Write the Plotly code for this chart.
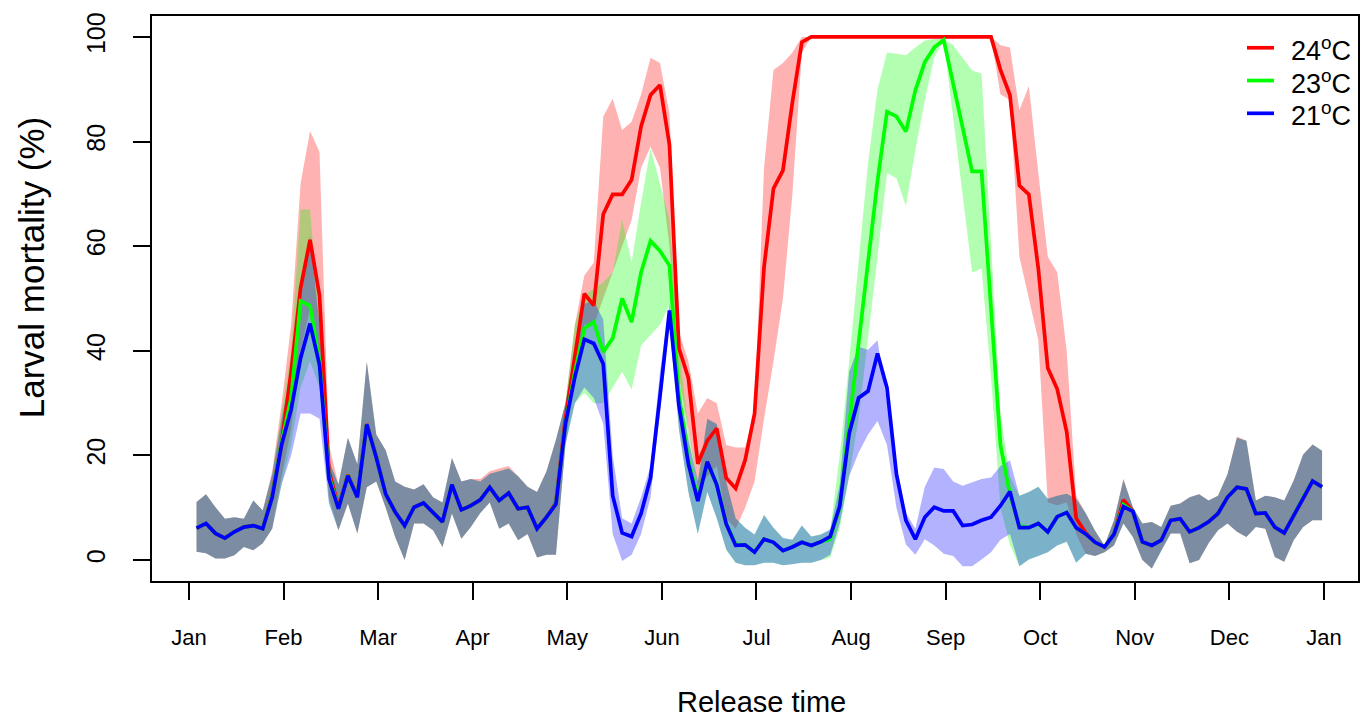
import plotly.graph_objects as go

# ---- data: 120 releases (10 per month), values in % ----
months = ["Jan", "Feb", "Mar", "Apr", "May", "Jun", "Jul", "Aug", "Sep", "Oct", "Nov", "Dec", "Jan"]
n_per_month = 10
n_points = 120

blue_mean = [
    6.1, 7.0, 5.1, 4.2, 5.4, 6.3, 6.6, 6.0, 12.0, 22.1,
    28.8, 38.6, 45.2, 37.3, 15.5, 9.8, 16.1, 12.0, 25.9, 19.6,
    12.6, 9.2, 6.6, 10.1, 10.9, 9.2, 7.3, 14.4, 9.6, 10.4,
    11.5, 13.9, 11.4, 12.8, 9.8, 10.1, 6.0, 8.2, 10.7, 26.0,
    35.0, 42.2, 41.4, 37.5, 12.3, 5.2, 4.5, 8.9, 15.7, 31.3,
    47.7, 29.6, 18.4, 11.3, 18.8, 14.4, 6.9, 2.8, 2.9, 1.5,
    4.0, 3.4, 1.8, 2.5, 3.4, 2.8, 3.5, 4.5, 10.3, 24.2,
    31.0, 32.3, 39.5, 32.9, 16.4, 7.6, 4.0, 8.2, 10.1, 9.4,
    9.4, 6.6, 6.8, 7.6, 8.2, 10.4, 13.1, 6.2, 6.2, 7.0,
    5.4, 8.3, 9.1, 6.2, 5.0, 3.4, 2.5, 4.9, 10.2, 9.3,
    3.5, 2.8, 3.8, 7.6, 7.9, 5.4, 6.2, 7.3, 8.9, 12.0,
    13.9, 13.6, 8.9, 9.0, 6.3, 5.2, 8.5, 12.0, 15.1, 14.0,
]
blue_lo = [
    1.6, 1.3, 0.3, 0.3, 0.9, 2.5, 1.9, 3.2, 6.0, 14.5,
    20.0, 28.0, 28.0, 27.0, 10.8, 5.7, 10.8, 5.1, 13.9, 15.0,
    10.0, 4.4, 0.0, 7.0, 7.0, 5.7, 2.5, 8.9, 4.1, 6.3,
    9.0, 11.0, 6.0, 7.0, 3.8, 5.0, 0.5, 1.0, 1.0, 22.0,
    30.0, 33.0, 31.0, 26.0, 5.0, -0.2, 1.0, 5.0, 12.0, 28.0,
    45.0, 25.0, 13.0, 5.0, 13.0, 8.0, 2.0, -0.5, -1.0, -1.0,
    -0.5, -0.5, -1.0, -0.8, -0.5, -0.5, 0.0, 1.0, 7.0, 16.0,
    20.5, 24.0, 26.6, 22.0, 10.0, 3.0, 1.0, 4.0, 2.8, 1.2,
    0.8, -1.2, -1.2, 0.1, 1.5, 3.9, 5.0, -1.2, 0.1, 0.8,
    1.5, 2.8, 3.5, -0.5, 1.2, 0.8, 1.5, 2.8, 7.0, 4.4,
    0.0, -1.6, 1.9, 5.1, 5.1, -0.6, 0.0, 3.2, 5.7, 7.0,
    5.4, 4.4, 6.3, 6.0, 0.6, -0.3, 3.8, 6.3, 7.6, 7.6,
]
blue_hi = [
    11.1, 12.6, 10.1, 7.9, 8.2, 7.9, 11.4, 9.5, 16.4, 27.0,
    36.0, 50.0, 62.0, 45.0, 19.0, 14.5, 23.4, 18.3, 37.9, 24.0,
    21.0, 15.0, 14.0, 13.5, 14.5, 12.0, 11.0, 19.5, 15.0, 15.5,
    15.0, 16.5, 17.0, 17.5, 16.0, 14.0, 13.0, 17.0, 23.0, 30.0,
    40.0, 49.0, 49.5, 46.0, 20.0, 8.0, 7.0, 12.0, 18.0, 36.0,
    49.0, 33.0, 23.0, 15.0, 27.0, 26.0, 15.0, 8.0, 6.2, 4.9,
    8.6, 6.2, 4.2, 3.9, 6.6, 4.5, 4.9, 5.9, 14.4, 36.0,
    40.8, 40.2, 42.0, 30.0, 18.3, 9.0, 6.0, 14.0, 17.7, 17.4,
    15.0, 14.2, 14.9, 15.5, 15.8, 18.0, 19.1, 12.3, 13.0, 14.0,
    11.7, 12.3, 12.7, 11.7, 9.0, 5.6, 2.8, 7.6, 15.3, 10.1,
    7.0, 7.3, 6.3, 10.4, 10.8, 12.0, 12.6, 11.4, 12.3, 16.4,
    23.4, 22.8, 11.4, 12.3, 12.0, 11.4, 15.2, 20.2, 22.1, 20.9,
]

green_mean = [
    6.1, 7.0, 5.1, 4.2, 5.4, 6.3, 6.6, 6.0, 12.3, 22.5,
    31.0, 49.5, 48.6, 38.0, 16.0, 9.9, 16.2, 12.1, 25.9, 19.7,
    12.6, 9.2, 6.6, 10.1, 10.9, 9.2, 7.3, 14.4, 9.6, 10.4,
    11.5, 13.9, 11.4, 12.8, 9.8, 10.1, 6.0, 8.2, 10.8, 26.0,
    36.0, 44.3, 45.5, 39.8, 42.4, 50.0, 45.5, 55.0, 61.0, 59.1,
    56.3, 31.6, 19.0, 12.0, 18.5, 14.5, 7.0, 3.0, 2.9, 1.6,
    4.0, 3.4, 1.8, 2.5, 3.4, 2.8, 3.5, 4.0, 10.1, 26.0,
    42.0, 57.5, 72.5, 85.7, 84.8, 81.9, 89.8, 95.2, 98.0, 99.4,
    91.0, 82.2, 74.3, 74.3, 48.0, 22.0, 12.5, 6.5, 6.2, 7.0,
    5.4, 8.3, 9.1, 6.2, 5.0, 3.4, 2.5, 4.9, 10.6, 9.3,
    3.5, 2.8, 3.8, 7.6, 7.9, 5.4, 6.2, 7.3, 8.9, 12.0,
    13.9, 13.6, 8.9, 9.0, 6.3, 5.2, 8.5, 12.0, 15.1, 14.0,
]
green_lo = [
    1.6, 1.3, 0.3, 0.3, 0.9, 2.5, 1.9, 3.2, 6.0, 14.5,
    22.0, 33.0, 38.0, 33.0, 11.0, 5.7, 10.8, 5.1, 13.9, 15.0,
    10.0, 4.4, 0.0, 7.0, 7.0, 5.7, 2.5, 8.9, 4.1, 6.3,
    9.0, 11.0, 6.0, 7.0, 3.8, 5.0, 0.5, 1.0, 1.0, 22.0,
    30.0, 32.0, 30.0, 30.0, 33.0, 36.0, 32.6, 41.0, 43.0, 45.0,
    48.7, 25.0, 13.0, 5.0, 13.0, 8.0, 2.0, -0.5, -1.0, -1.0,
    -0.5, -0.5, -1.0, -0.8, -0.5, -0.5, 0.0, 0.5, 6.0, 16.0,
    27.0, 42.0, 58.0, 74.0, 73.0, 67.7, 78.4, 87.9, 96.1, 99.3,
    84.5, 69.8, 55.0, 55.7, 35.0, 10.0, 3.0, -1.2, 0.1, 0.8,
    1.5, 2.8, 3.5, -0.5, 1.2, 0.8, 1.5, 2.8, 7.0, 4.4,
    0.0, -1.6, 1.9, 5.1, 5.1, -0.6, 0.0, 3.2, 5.7, 7.0,
    5.4, 4.4, 6.3, 6.0, 0.6, -0.3, 3.8, 6.3, 7.6, 7.6,
]
green_hi = [
    11.1, 12.6, 10.1, 7.9, 8.2, 7.9, 11.4, 9.5, 16.4, 28.0,
    40.0, 67.0, 67.0, 46.0, 19.0, 14.5, 23.4, 18.3, 37.9, 24.0,
    21.0, 15.0, 14.0, 13.5, 14.5, 12.0, 11.0, 19.5, 15.0, 15.5,
    15.0, 16.5, 17.0, 17.5, 16.0, 14.0, 13.0, 17.0, 23.0, 30.0,
    45.0, 50.6, 51.9, 53.1, 55.0, 65.1, 56.9, 68.3, 78.7, 72.1,
    65.1, 41.0, 25.0, 15.0, 27.0, 26.0, 15.0, 8.0, 6.2, 4.9,
    8.6, 6.2, 4.2, 3.9, 6.6, 4.5, 4.9, 5.7, 20.0, 38.0,
    57.0, 76.0, 90.0, 97.0, 96.8, 96.5, 98.0, 99.3, 99.6, 99.6,
    98.4, 96.1, 93.6, 93.0, 60.0, 28.0, 16.0, 12.3, 13.0, 14.0,
    11.7, 12.3, 12.7, 11.7, 9.0, 5.6, 2.8, 7.6, 15.3, 10.1,
    7.0, 7.3, 6.3, 10.4, 10.8, 12.0, 12.6, 11.4, 12.3, 16.4,
    23.4, 22.8, 11.4, 12.3, 12.0, 11.4, 15.2, 20.2, 22.1, 20.9,
]

red_mean = [
    6.1, 7.0, 5.1, 4.2, 5.4, 6.3, 6.6, 6.0, 12.5, 22.5,
    36.0, 52.0, 61.2, 50.6, 17.0, 10.2, 16.3, 12.2, 26.0, 19.8,
    12.6, 9.2, 6.6, 10.1, 10.9, 9.2, 7.3, 14.4, 9.6, 10.4,
    11.5, 13.9, 11.4, 12.8, 9.8, 10.1, 6.0, 8.2, 11.0, 27.0,
    39.0, 50.9, 48.7, 66.1, 69.9, 69.9, 72.7, 82.9, 88.9, 90.8,
    79.4, 40.5, 34.8, 18.4, 22.8, 25.2, 15.7, 13.7, 19.1, 28.0,
    56.0, 71.0, 74.5, 87.5, 99.0, 100.0, 100.0, 100.0, 100.0, 100.0,
    100.0, 100.0, 100.0, 100.0, 100.0, 100.0, 100.0, 100.0, 100.0, 100.0,
    100.0, 100.0, 100.0, 100.0, 100.0, 93.7, 88.9, 71.6, 69.9, 55.7,
    36.7, 32.7, 24.5, 8.0, 5.2, 3.4, 2.5, 4.9, 11.5, 9.3,
    3.5, 2.8, 3.8, 7.6, 7.9, 5.4, 6.2, 7.3, 8.9, 12.0,
    13.9, 13.6, 8.9, 9.0, 6.3, 5.2, 8.5, 12.0, 15.1, 14.0,
]
red_lo = [
    1.6, 1.3, 0.3, 0.3, 0.9, 2.5, 1.9, 3.2, 6.0, 16.0,
    25.0, 40.0, 48.0, 38.0, 12.0, 5.7, 10.8, 5.1, 13.9, 15.0,
    10.0, 4.4, 0.0, 7.0, 7.0, 5.7, 2.5, 8.9, 4.1, 6.3,
    9.0, 11.0, 6.0, 7.0, 3.8, 5.0, 0.5, 1.0, 1.0, 22.0,
    35.0, 45.0, 45.0, 50.0, 55.0, 60.0, 65.0, 75.0, 79.0, 75.0,
    60.0, 35.0, 25.0, 14.0, 16.0, 18.0, 8.0, 6.0, 10.0, 15.0,
    27.0, 38.0, 50.0, 70.0, 97.0, 100.0, 100.0, 100.0, 100.0, 100.0,
    100.0, 100.0, 100.0, 100.0, 100.0, 100.0, 100.0, 100.0, 100.0, 100.0,
    100.0, 100.0, 100.0, 100.0, 100.0, 89.0, 88.0, 58.0, 50.0, 42.0,
    11.0, 10.5, 11.0, 5.0, 1.2, 0.8, 1.5, 2.8, 7.0, 4.4,
    0.0, -1.6, 1.9, 5.1, 5.1, -0.6, 0.0, 3.2, 5.7, 7.0,
    5.4, 4.4, 6.3, 6.0, 0.6, -0.3, 3.8, 6.3, 7.6, 7.6,
]
red_hi = [
    11.1, 12.6, 10.1, 7.9, 8.2, 7.9, 11.4, 9.5, 17.0, 30.0,
    45.0, 72.0, 82.0, 78.0, 22.0, 14.5, 23.4, 18.3, 37.9, 24.0,
    21.0, 15.0, 14.0, 13.5, 14.5, 12.0, 11.0, 19.5, 15.0, 15.5,
    15.5, 17.0, 17.5, 18.0, 16.0, 14.0, 13.0, 17.0, 23.0, 30.0,
    45.0, 54.4, 56.9, 84.8, 88.2, 82.2, 83.8, 89.0, 96.0, 95.0,
    85.4, 43.6, 38.0, 28.0, 31.0, 30.0, 22.0, 21.5, 21.5, 28.0,
    75.0, 93.7, 95.0, 97.0, 100.0, 100.0, 100.0, 100.0, 100.0, 100.0,
    100.0, 100.0, 100.0, 100.0, 100.0, 100.0, 100.0, 100.0, 100.0, 100.0,
    100.0, 100.0, 100.0, 100.0, 100.0, 98.4, 98.0, 86.0, 90.6, 74.0,
    58.0, 55.0, 40.0, 12.3, 9.0, 5.6, 2.8, 7.6, 15.6, 10.1,
    7.0, 7.3, 6.3, 10.4, 10.8, 12.0, 12.6, 11.4, 12.3, 16.4,
    23.6, 22.8, 11.4, 12.3, 12.0, 11.4, 15.2, 20.2, 22.1, 20.9,
]

legend_labels = ["24<sup>o</sup>C", "23<sup>o</sup>C", "21<sup>o</sup>C"]
series = [
    (legend_labels[0], red_mean, red_lo, red_hi, "#FF0000", "rgba(255,0,0,0.3)"),
    (legend_labels[1], green_mean, green_lo, green_hi, "#00FF00", "rgba(0,255,0,0.3)"),
    (legend_labels[2], blue_mean, blue_lo, blue_hi, "#0000FF", "rgba(0,0,255,0.3)"),
]

# release position in months from 1 Jan (10 releases per month)
x = [(i + 0.8) / n_per_month for i in range(n_points)]

FONT = "Liberation Sans, Arial, Helvetica, sans-serif"
fig = go.Figure()

for name, m, lo, hi, col, fcol in series:
    fig.add_trace(go.Scatter(x=x, y=lo, mode="lines", line=dict(width=0, color=fcol),
                             showlegend=False, hoverinfo="skip"))
    fig.add_trace(go.Scatter(x=x, y=hi, mode="lines", line=dict(width=0, color=fcol),
                             fill="tonexty", fillcolor=fcol, showlegend=False, hoverinfo="skip"))

for name, m, lo, hi, col, fcol in series:
    fig.add_trace(go.Scatter(x=x, y=m, mode="lines", name=name, showlegend=False,
                             line=dict(color=col, width=3.7)))

# legend drawn in the top-right corner (R style, no box)
shapes = []
annotations = []
PLOT_L, PLOT_W, PLOT_B, PLOT_H = 152, 1206, 581, 569
def px(xp):
    return (xp - PLOT_L) / PLOT_W
def py(yp):
    return (PLOT_B - yp) / PLOT_H
for k, (name, m, lo, hi, col, fcol) in enumerate(series):
    row_y = 44 + 33 * k
    shapes.append(dict(type="line", xref="paper", yref="paper",
                       x0=px(1247), x1=px(1274), y0=py(row_y), y1=py(row_y),
                       line=dict(color=col, width=3.7)))
    annotations.append(dict(text=name, xref="paper", yref="paper",
                            x=px(1289), y=py(row_y + 1), xanchor="left", yanchor="middle",
                            showarrow=False, font=dict(size=27, family=FONT)))

annotations += [
    dict(text="Release time", xref="paper", yref="paper", x=px(761), y=py(703),
         xanchor="center", yanchor="middle", showarrow=False,
         font=dict(size=29, family=FONT)),
    dict(text="Larval mortality (%)", xref="paper", yref="paper", x=px(31), y=py(266),
         xanchor="center", yanchor="middle", showarrow=False, textangle=-90,
         font=dict(size=35, family=FONT)),
]

fig.update_layout(
    width=1372, height=721,
    margin=dict(l=152, r=14, t=12, b=140),
    paper_bgcolor="white", plot_bgcolor="white",
    font=dict(family=FONT, color="black"),
    showlegend=False,
    xaxis=dict(range=[-0.391, 12.36], tickmode="array",
               tickvals=list(range(len(months))), ticktext=months,
               ticks="outside", ticklen=17, tickwidth=1.5, tickcolor="black",
               showline=True, mirror=True, linecolor="black", linewidth=1.5,
               showgrid=False, zeroline=False,
               tickfont=dict(size=22, family=FONT), ticklabelstandoff=19),
    yaxis=dict(range=[-4, 104], tickmode="array", tickvals=[0, 20, 40, 60, 80, 100],
               tickangle=-90,
               ticks="outside", ticklen=17, tickwidth=1.5, tickcolor="black",
               showline=True, mirror=True, linecolor="black", linewidth=1.5,
               showgrid=False, zeroline=False,
               tickfont=dict(size=25, family=FONT), ticklabelstandoff=18),
    shapes=shapes,
    annotations=annotations,
)

fig.write_html("out.html")
